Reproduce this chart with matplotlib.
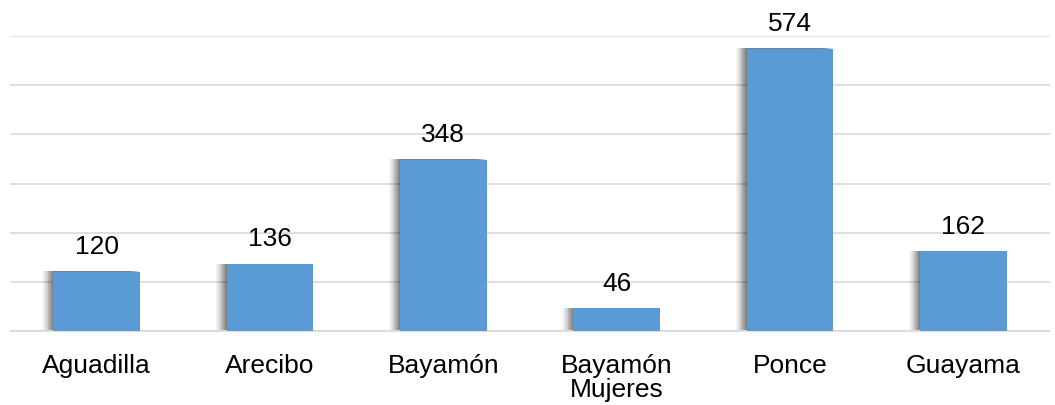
import matplotlib.pyplot as plt
import matplotlib.patheffects as pe

plt.rcParams['font.family'] = ['Liberation Sans', 'DejaVu Sans']

regiones = ['Aguadilla', 'Arecibo', 'Bayamón', 'Bayamón\nMujeres', 'Ponce', 'Guayama']
valores = [120, 136, 348, 46, 574, 162]

fig = plt.figure(figsize=(10.55, 4.06), dpi=100)
ax = fig.add_axes([10 / 1055, 1 - 332 / 406, 1040 / 1055, 295 / 406])

# soft shadow to the left of each bar, fading outwards
shadow = [pe.SimplePatchShadow(offset=(-d * 0.5, 0.4), shadow_rgbFace='black',
                               alpha=0.05 if d < 10 else 0.025)
          for d in range(1, 17)]
x = range(len(regiones))
bars = ax.bar(x, valores, width=0.5, color='#5B9BD5', zorder=3,
              path_effects=shadow + [pe.Normal()])

for xi, v in zip(x, valores):
    ax.annotate(str(v), (xi, v), xytext=(0, 13.5), textcoords='offset points',
                ha='center', va='baseline', fontsize=19, color='black')

ax.set_xlim(-0.5, len(regiones) - 0.5)
ax.set_ylim(0, 600)
ax.set_yticks(range(0, 601, 100))
ax.yaxis.grid(True, color='#D9D9D9', linewidth=1.2, zorder=0)
ax.tick_params(axis='y', left=False, labelleft=False)
ax.tick_params(axis='x', bottom=False, pad=12, labelsize=19)
ax.set_xticks(list(x))
ax.set_xticklabels(regiones, linespacing=1.05)
for s in ['top', 'right', 'left']:
    ax.spines[s].set_visible(False)
ax.spines['bottom'].set_color('#D9D9D9')
ax.spines['bottom'].set_linewidth(1.2)

fig.savefig('out.png', dpi=100)
